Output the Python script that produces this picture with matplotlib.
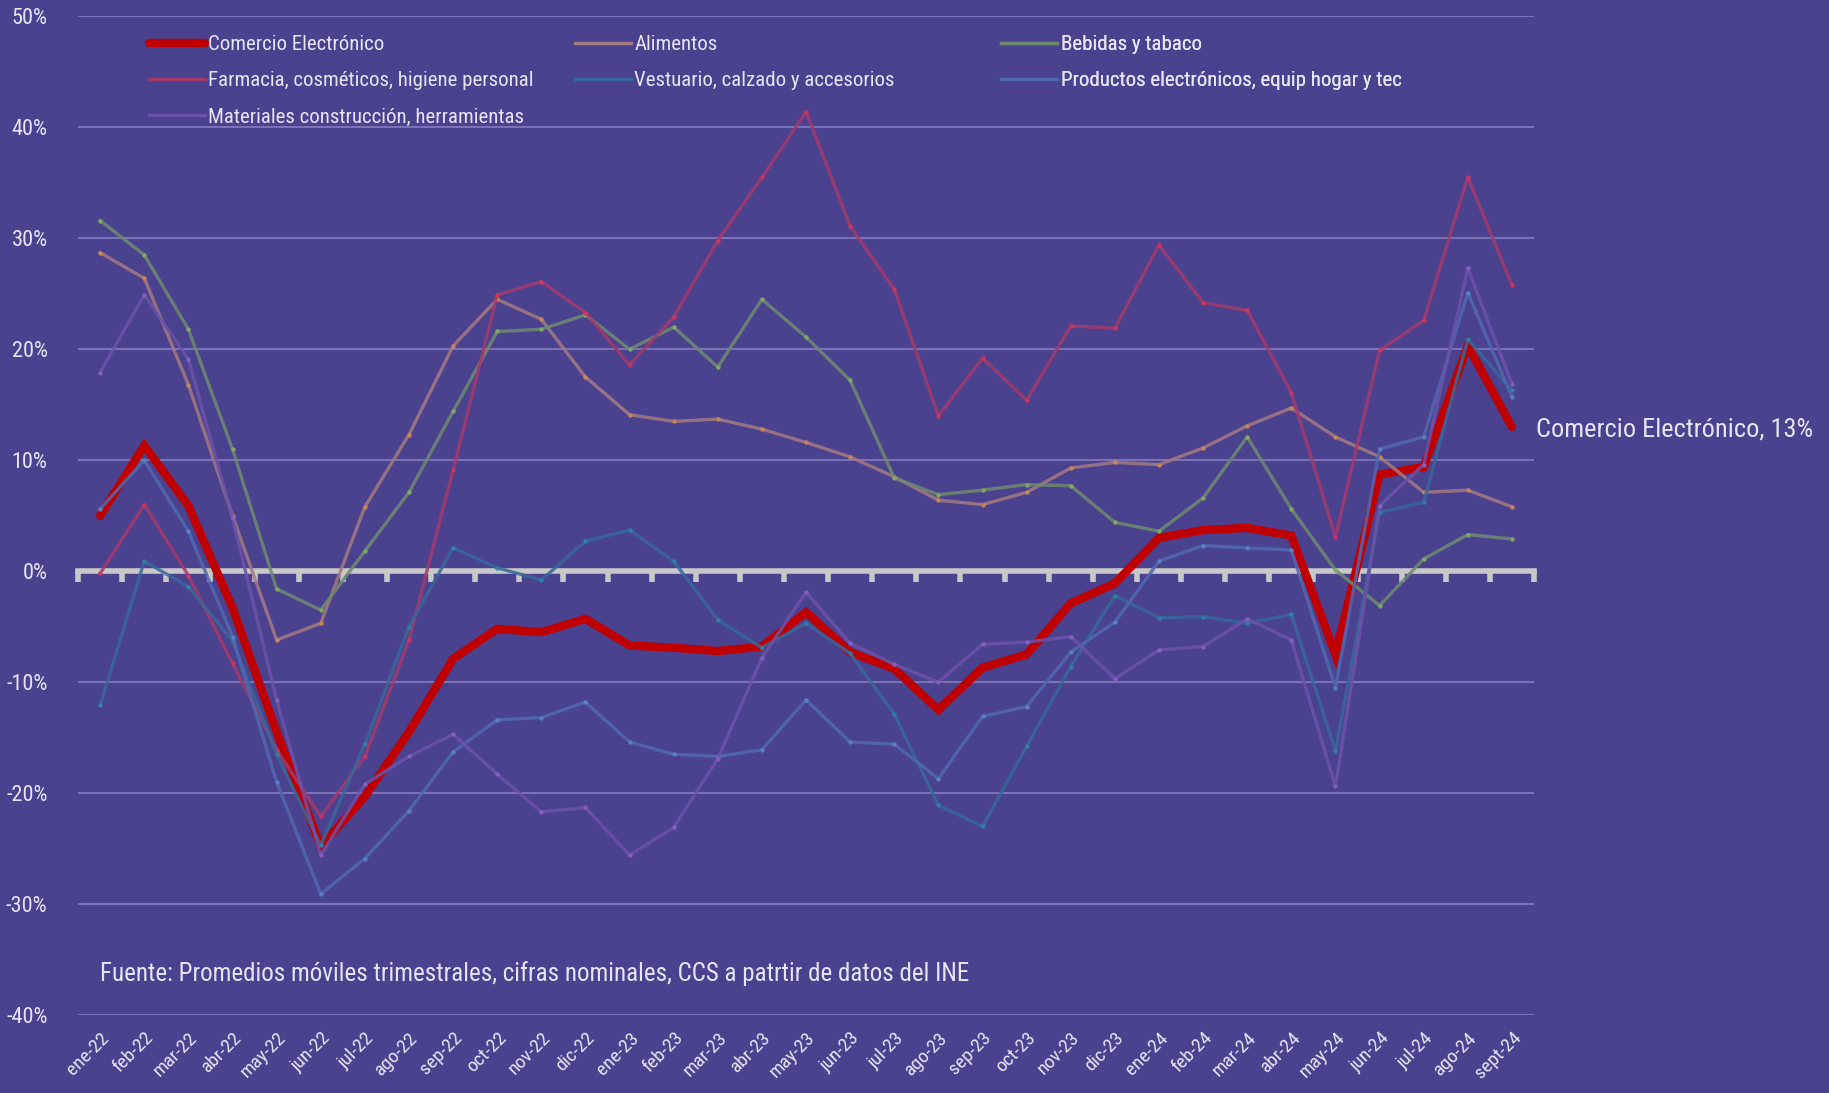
import matplotlib
matplotlib.use("Agg")
import matplotlib.pyplot as plt
from matplotlib import font_manager
import numpy as np

# font: condensed look if available
_names = {f.name for f in font_manager.fontManager.ttflist}
FONT = next((n for n in ["Liberation Sans Narrow", "Roboto Condensed", "DejaVu Sans Condensed", "DejaVu Sans"] if n in _names), "DejaVu Sans")
plt.rcParams["font.family"] = [FONT, "DejaVu Sans"]

MONTHS = ["ene-22", "feb-22", "mar-22", "abr-22", "may-22", "jun-22", "jul-22", "ago-22", "sep-22",
          "oct-22", "nov-22", "dic-22", "ene-23", "feb-23", "mar-23", "abr-23", "may-23", "jun-23",
          "jul-23", "ago-23", "sep-23", "oct-23", "nov-23", "dic-23", "ene-24", "feb-24", "mar-24",
          "abr-24", "may-24", "jun-24", "jul-24", "ago-24", "sept-24"]

comercio = [5.0, 11.3, 5.9, -3.3, -14.5, -24.8, -20.3, -14.5, -7.9, -5.2, -5.5, -4.3, -6.7, -6.9, -7.2,
            -6.8, -3.7, -7.3, -8.8, -12.5, -8.7, -7.5, -2.9, -1.1, 3.0, 3.7, 3.9, 3.2, -7.5, 8.7, 9.4,
            20.3, 13.0]
alimentos = [28.7, 26.4, 16.8, 5.0, -6.2, -4.7, 5.8, 12.3, 20.3, 24.5, 22.7, 17.5, 14.1, 13.5, 13.7,
             12.8, 11.6, 10.3, 8.5, 6.4, 6.0, 7.1, 9.3, 9.8, 9.6, 11.1, 13.1, 14.7, 12.1, 10.3, 7.1,
             7.3, 5.8]
bebidas = [31.6, 28.5, 21.8, 11.0, -1.6, -3.5, 1.8, 7.1, 14.4, 21.6, 21.8, 23.1, 20.0, 22.0, 18.4,
           24.5, 21.1, 17.2, 8.4, 6.9, 7.3, 7.8, 7.7, 4.4, 3.6, 6.6, 12.1, 5.6, 0.1, -3.1, 1.1, 3.3, 2.9]
farmacia = [-0.2, 6.0, -0.4, -8.3, -16.1, -22.1, -16.7, -6.2, 9.1, 24.9, 26.1, 23.3, 18.6, 22.9, 29.8,
            35.5, 41.4, 31.1, 25.4, 14.0, 19.2, 15.4, 22.1, 21.9, 29.4, 24.2, 23.5, 16.1, 3.1, 19.9,
            22.6, 35.5, 25.8]
vestuario = [-12.1, 0.9, -1.4, -6.3, -16.5, -24.7, -15.6, -5.0, 2.1, 0.3, -0.8, 2.7, 3.7, 0.9, -4.4,
             -6.9, -4.7, -7.4, -12.9, -21.1, -23.0, -15.8, -8.6, -2.2, -4.2, -4.1, -4.7, -3.9, -16.2,
             5.3, 6.2, 20.9, 16.3]
electronicos = [5.6, 10.0, 3.6, -5.9, -19.0, -29.1, -25.9, -21.6, -16.3, -13.4, -13.2, -11.8, -15.4,
                -16.5, -16.7, -16.1, -11.6, -15.4, -15.6, -18.7, -13.1, -12.2, -7.3, -4.6, 0.9, 2.3,
                2.1, 1.9, -10.5, 11.0, 12.1, 25.1, 15.7]
materiales = [17.9, 24.9, 19.1, 4.8, -11.6, -25.6, -19.2, -16.7, -14.7, -18.3, -21.7, -21.3, -25.6,
              -23.1, -16.9, -7.8, -1.9, -6.5, -8.4, -10.0, -6.6, -6.4, -5.9, -9.7, -7.1, -6.8, -4.3,
              -6.2, -19.4, 5.9, 9.6, 27.3, 16.9]

BG = "#4a418f"
TXT = "#e6e4f2"
GRID = "#7a72b4"

# (label, values, line colour, marker colour)
SERIES = [
    ("Comercio Electrónico", comercio, "#c00000", None),
    ("Alimentos", alimentos, "#a47a82", "#d08a50"),
    ("Bebidas y tabaco", bebidas, "#6f8a70", "#86b060"),
    ("Farmacia, cosméticos, higiene personal", farmacia, "#a33a6c", "#d8345a"),
    ("Vestuario, calzado y accesorios", vestuario, "#38679a", "#2f86a8"),
    ("Productos electrónicos, equip hogar y tec", electronicos, "#5068b0", "#5a86c8"),
    ("Materiales construcción, herramientas", materiales, "#6c52aa", "#8a62c4"),
]

fig = plt.figure(figsize=(18.29, 10.93), dpi=100, facecolor=BG)
ax = fig.add_axes([0.0427, 0.0714, 0.7960, 0.9136], facecolor=BG)

x = np.arange(len(MONTHS))
handles = []
for i, (label, vals, col, mcol) in enumerate(SERIES):
    if mcol is None:
        h, = ax.plot(x, vals, color=col, lw=6, solid_capstyle="round", solid_joinstyle="miter",
                     zorder=3, label=label)
    else:
        h, = ax.plot(x, vals, color=col, lw=2.4, alpha=0.85, marker="o", ms=3.2,
                     mfc=mcol, mec="none", zorder=4, label=label)
    handles.append(h)

ax.set_xlim(-0.5, len(MONTHS) - 0.5)
ax.set_ylim(-40, 50)
ax.set_yticks(np.arange(-40, 51, 10))
ax.set_yticklabels([f"{v}%" for v in range(-40, 51, 10)], fontsize=16, color=TXT)
ax.set_xticks(x)
ax.set_xticklabels(MONTHS, rotation=45, ha="right", rotation_mode="anchor", fontsize=14, color=TXT)
ax.tick_params(axis="both", length=0)
ax.tick_params(axis="y", pad=22)
ax.tick_params(axis="x", pad=10)
for s in ax.spines.values():
    s.set_visible(False)

for v in range(-40, 51, 10):
    if v != 0:
        ax.axhline(v, color=GRID, lw=1.5, zorder=1)

# zero line with category boundary ticks
zero = ax.secondary_xaxis(40 / 90)
zero.spines["bottom"].set_color("#c8c8c8")
zero.spines["bottom"].set_linewidth(4)
zero.spines["bottom"].set_zorder(2)
zero.set_xticks(np.arange(-0.5, len(MONTHS), 1.0))
zero.set_xticklabels([])
zero.tick_params(axis="x", direction="out", length=8, width=4, color="#c8c8c8")

# legend in three fixed columns
cols = [(0.0815, [0, 3, 6]), (0.3144, [1, 4]), (0.5474, [2, 5])]
for cx, idx in cols:
    leg = ax.legend([handles[k] for k in idx], [SERIES[k][0] for k in idx],
                    loc="upper left", bbox_to_anchor=(cx, 0.968), bbox_transform=fig.transFigure,
                    frameon=False, fontsize=15, handlelength=2.7, handletextpad=0.15,
                    borderpad=0, borderaxespad=0, labelspacing=0.83, labelcolor=TXT)
    for lh in leg.get_lines():
        lh.set_marker("")
        lh.set_alpha(1)
    ax.add_artist(leg)

ax.annotate("Comercio Electrónico, 13%", xy=(x[-1], comercio[-1]), xytext=(17, -2),
            textcoords="offset points", ha="left", va="center", fontsize=19, color=TXT,
            annotation_clip=False)

ax.text(0, -36.3, "Fuente: Promedios móviles trimestrales, cifras nominales, CCS a patrtir de datos del INE",
        ha="left", va="center", fontsize=18, color=TXT)

fig.savefig("out.png", dpi=100, facecolor=BG)
